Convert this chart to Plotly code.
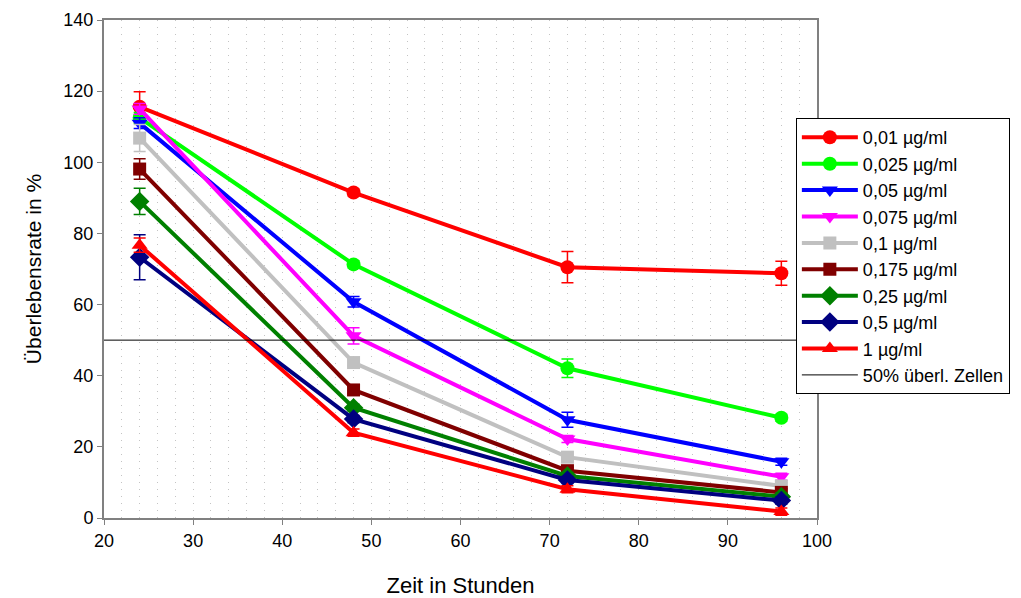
import plotly.graph_objects as go

hours = [24, 48, 72, 96]

series_names = ["0,01 µg/ml", "0,025 µg/ml", "0,05 µg/ml", "0,075 µg/ml", "0,1 µg/ml",
                "0,175 µg/ml", "0,25 µg/ml", "0,5 µg/ml", "1 µg/ml"]

v_001 = [115.6, 91.5, 70.5, 68.8]
v_0025 = [112.5, 71.3, 42.1, 28.2]
v_005 = [111.0, 60.8, 27.6, 15.8]
v_0075 = [115.0, 51.2, 22.2, 11.6]
v_01 = [106.8, 43.7, 17.1, 9.0]
v_0175 = [98.1, 36.0, 13.3, 7.2]
v_025 = [89.0, 31.0, 11.8, 6.0]
v_05 = [73.3, 27.8, 10.7, 4.9]
v_1 = [76.7, 24.0, 8.1, 1.8]

e_001 = [4.2, 1.0, 4.4, 3.4]
e_0025 = [1.5, 1.0, 2.6, 1.0]
e_005 = [1.5, 1.5, 2.1, 1.0]
e_0075 = [1.5, 2.3, 1.0, 1.0]
e_01 = [3.8, 1.0, 1.0, 1.0]
e_0175 = [2.9, 1.0, 1.0, 1.0]
e_025 = [3.7, 1.0, 1.0, 1.0]
e_05 = [6.3, 1.0, 1.0, 1.0]
e_1 = [2.0, 1.0, 1.0, 1.0]

threshold_x = [20, 100]
threshold_y = [50, 50]

values = [v_001, v_0025, v_005, v_0075, v_01, v_0175, v_025, v_05, v_1]
errors = [e_001, e_0025, e_005, e_0075, e_01, e_0175, e_025, e_05, e_1]
colors = ["#FF0000", "#00FF00", "#0000FF", "#FF00FF", "#C0C0C0",
          "#800000", "#008000", "#000080", "#FF0000"]
symbols = ["circle", "circle", "triangle-down", "triangle-down", "square",
           "square", "diamond", "diamond", "triangle-up"]
sizes = [14, 14, 14, 14, 13, 13, 15, 15, 14]

FONT = "Liberation Sans, Arial, Helvetica, sans-serif"

fig = go.Figure()
for name, v, e, c, s, sz in zip(series_names, values, errors, colors, symbols, sizes):
    fig.add_trace(go.Scatter(
        x=hours, y=v, name=name, mode="lines+markers",
        line=dict(color=c, width=4),
        marker=dict(color=c, symbol=s, size=sz),
        error_y=dict(type="data", array=e, visible=True, color=c, thickness=1.5, width=6),
    ))

fig.add_trace(go.Scatter(
    x=threshold_x, y=threshold_y, name="50% überl. Zellen", mode="lines",
    line=dict(color="#000000", width=1),
))

GRID = dict(gridcolor="#C4C4C4", griddash="1px,6px", gridwidth=1)

fig.update_layout(
    width=1021, height=598,
    margin=dict(l=104, r=203, t=20, b=80),
    paper_bgcolor="white", plot_bgcolor="white",
    font=dict(family=FONT, size=18, color="#000000"),
    showlegend=True,
    legend=dict(
        x=0.969, y=0.803, xanchor="left", yanchor="top",
        bgcolor="white", bordercolor="#000000", borderwidth=1,
        font=dict(family=FONT, size=18, color="#000000"),
        itemwidth=56, tracegroupgap=0,
    ),
    xaxis=dict(
        range=[20, 100], dtick=10, tick0=20,
        showline=True, linecolor="#808080", linewidth=2, mirror=True,
        ticks="outside", ticklen=5, tickcolor="#808080",
        showgrid=True, **GRID,
        minor=dict(dtick=2, showgrid=True, **GRID),
        zeroline=False, automargin=False,
        title=dict(text="Zeit in Stunden", font=dict(size=22), standoff=30),
        tickfont=dict(size=18),
    ),
    yaxis=dict(
        range=[0, 140], dtick=20,
        showline=True, linecolor="#808080", linewidth=2, mirror=True,
        ticks="outside", ticklen=5, tickcolor="#808080",
        showgrid=False, zeroline=False, automargin=False,
        title=dict(text="Überlebensrate in %", font=dict(size=21), standoff=16),
        tickfont=dict(size=18),
    ),
)

fig.write_html("out.html")
